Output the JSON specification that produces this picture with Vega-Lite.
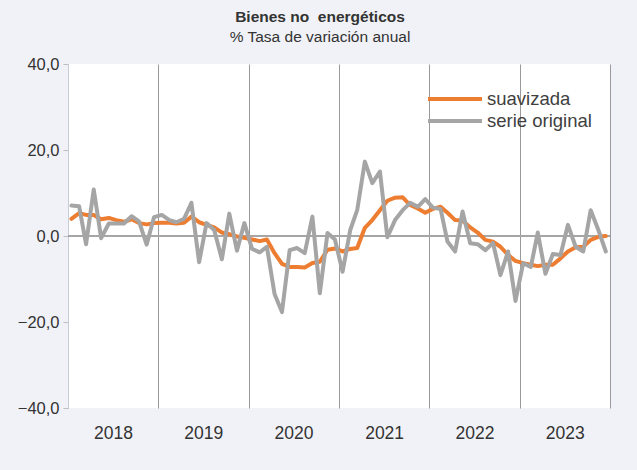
{
  "$schema": "https://vega.github.io/schema/vega-lite/v6.json",
  "width": 542,
  "height": 344,
  "autosize": {"type": "none"},
  "padding": {"left": 68, "top": 64, "right": 27, "bottom": 62},
  "background": "#f1f2f7",
  "config": {
    "view": {"fill": "white", "stroke": null},
    "font": "Liberation Sans"
  },
  "title": {
    "text": "Bienes no\u00a0 energéticos",
    "subtitle": "% Tasa de variación anual",
    "font": "Liberation Sans",
    "subtitleFont": "Liberation Sans",
    "fontSize": 15.5,
    "fontWeight": "bold",
    "subtitleFontSize": 15.5,
    "color": "#333333",
    "subtitleColor": "#333333",
    "anchor": "middle",
    "dx": -19,
    "offset": 11,
    "subtitlePadding": 4
  },
  "data": {
    "values": [
      {"fecha": "2018-01-15", "serie": "suavizada", "valor": 4.0},
      {"fecha": "2018-02-15", "serie": "suavizada", "valor": 5.3},
      {"fecha": "2018-03-15", "serie": "suavizada", "valor": 4.9},
      {"fecha": "2018-04-15", "serie": "suavizada", "valor": 4.9},
      {"fecha": "2018-05-15", "serie": "suavizada", "valor": 3.9},
      {"fecha": "2018-06-15", "serie": "suavizada", "valor": 4.2},
      {"fecha": "2018-07-15", "serie": "suavizada", "valor": 3.7},
      {"fecha": "2018-08-15", "serie": "suavizada", "valor": 3.3},
      {"fecha": "2018-09-15", "serie": "suavizada", "valor": 3.9},
      {"fecha": "2018-10-15", "serie": "suavizada", "valor": 3.0},
      {"fecha": "2018-11-15", "serie": "suavizada", "valor": 2.7},
      {"fecha": "2018-12-15", "serie": "suavizada", "valor": 3.0},
      {"fecha": "2019-01-15", "serie": "suavizada", "valor": 3.1},
      {"fecha": "2019-02-15", "serie": "suavizada", "valor": 3.1},
      {"fecha": "2019-03-15", "serie": "suavizada", "valor": 2.9},
      {"fecha": "2019-04-15", "serie": "suavizada", "valor": 3.1},
      {"fecha": "2019-05-15", "serie": "suavizada", "valor": 4.5},
      {"fecha": "2019-06-15", "serie": "suavizada", "valor": 3.2},
      {"fecha": "2019-07-15", "serie": "suavizada", "valor": 2.6},
      {"fecha": "2019-08-15", "serie": "suavizada", "valor": 2.0},
      {"fecha": "2019-09-15", "serie": "suavizada", "valor": 0.8},
      {"fecha": "2019-10-15", "serie": "suavizada", "valor": 0.4},
      {"fecha": "2019-11-15", "serie": "suavizada", "valor": -0.1},
      {"fecha": "2019-12-15", "serie": "suavizada", "valor": -0.4},
      {"fecha": "2020-01-15", "serie": "suavizada", "valor": -0.8},
      {"fecha": "2020-02-15", "serie": "suavizada", "valor": -1.2},
      {"fecha": "2020-03-15", "serie": "suavizada", "valor": -0.8},
      {"fecha": "2020-04-15", "serie": "suavizada", "valor": -4.0},
      {"fecha": "2020-05-15", "serie": "suavizada", "valor": -6.5},
      {"fecha": "2020-06-15", "serie": "suavizada", "valor": -7.2},
      {"fecha": "2020-07-15", "serie": "suavizada", "valor": -7.2},
      {"fecha": "2020-08-15", "serie": "suavizada", "valor": -7.3},
      {"fecha": "2020-09-15", "serie": "suavizada", "valor": -6.3},
      {"fecha": "2020-10-15", "serie": "suavizada", "valor": -6.0},
      {"fecha": "2020-11-15", "serie": "suavizada", "valor": -3.2},
      {"fecha": "2020-12-15", "serie": "suavizada", "valor": -2.9},
      {"fecha": "2021-01-15", "serie": "suavizada", "valor": -3.6},
      {"fecha": "2021-02-15", "serie": "suavizada", "valor": -3.0},
      {"fecha": "2021-03-15", "serie": "suavizada", "valor": -2.8},
      {"fecha": "2021-04-15", "serie": "suavizada", "valor": 1.9},
      {"fecha": "2021-05-15", "serie": "suavizada", "valor": 3.7},
      {"fecha": "2021-06-15", "serie": "suavizada", "valor": 6.0},
      {"fecha": "2021-07-15", "serie": "suavizada", "valor": 8.2},
      {"fecha": "2021-08-15", "serie": "suavizada", "valor": 8.9},
      {"fecha": "2021-09-15", "serie": "suavizada", "valor": 9.0},
      {"fecha": "2021-10-15", "serie": "suavizada", "valor": 7.2},
      {"fecha": "2021-11-15", "serie": "suavizada", "valor": 6.4},
      {"fecha": "2021-12-15", "serie": "suavizada", "valor": 5.4},
      {"fecha": "2022-01-15", "serie": "suavizada", "valor": 6.3},
      {"fecha": "2022-02-15", "serie": "suavizada", "valor": 6.8},
      {"fecha": "2022-03-15", "serie": "suavizada", "valor": 5.4},
      {"fecha": "2022-04-15", "serie": "suavizada", "valor": 3.7},
      {"fecha": "2022-05-15", "serie": "suavizada", "valor": 3.6},
      {"fecha": "2022-06-15", "serie": "suavizada", "valor": 2.0},
      {"fecha": "2022-07-15", "serie": "suavizada", "valor": 0.8},
      {"fecha": "2022-08-15", "serie": "suavizada", "valor": -0.9},
      {"fecha": "2022-09-15", "serie": "suavizada", "valor": -1.3},
      {"fecha": "2022-10-15", "serie": "suavizada", "valor": -2.5},
      {"fecha": "2022-11-15", "serie": "suavizada", "valor": -4.4},
      {"fecha": "2022-12-15", "serie": "suavizada", "valor": -5.8},
      {"fecha": "2023-01-15", "serie": "suavizada", "valor": -6.3},
      {"fecha": "2023-02-15", "serie": "suavizada", "valor": -6.7},
      {"fecha": "2023-03-15", "serie": "suavizada", "valor": -7.0},
      {"fecha": "2023-04-15", "serie": "suavizada", "valor": -6.7},
      {"fecha": "2023-05-15", "serie": "suavizada", "valor": -6.7},
      {"fecha": "2023-06-15", "serie": "suavizada", "valor": -5.2},
      {"fecha": "2023-07-15", "serie": "suavizada", "valor": -3.6},
      {"fecha": "2023-08-15", "serie": "suavizada", "valor": -2.6},
      {"fecha": "2023-09-15", "serie": "suavizada", "valor": -2.5},
      {"fecha": "2023-10-15", "serie": "suavizada", "valor": -0.9},
      {"fecha": "2023-11-15", "serie": "suavizada", "valor": -0.2},
      {"fecha": "2023-12-15", "serie": "suavizada", "valor": 0.0},
      {"fecha": "2018-01-15", "serie": "serie original", "valor": 7.1},
      {"fecha": "2018-02-15", "serie": "serie original", "valor": 6.9},
      {"fecha": "2018-03-15", "serie": "serie original", "valor": -1.9},
      {"fecha": "2018-04-15", "serie": "serie original", "valor": 10.8},
      {"fecha": "2018-05-15", "serie": "serie original", "valor": -0.5},
      {"fecha": "2018-06-15", "serie": "serie original", "valor": 2.9},
      {"fecha": "2018-07-15", "serie": "serie original", "valor": 2.9},
      {"fecha": "2018-08-15", "serie": "serie original", "valor": 2.9},
      {"fecha": "2018-09-15", "serie": "serie original", "valor": 4.6},
      {"fecha": "2018-10-15", "serie": "serie original", "valor": 3.4},
      {"fecha": "2018-11-15", "serie": "serie original", "valor": -2.0},
      {"fecha": "2018-12-15", "serie": "serie original", "valor": 4.4},
      {"fecha": "2019-01-15", "serie": "serie original", "valor": 4.9},
      {"fecha": "2019-02-15", "serie": "serie original", "valor": 3.7},
      {"fecha": "2019-03-15", "serie": "serie original", "valor": 3.2},
      {"fecha": "2019-04-15", "serie": "serie original", "valor": 4.0},
      {"fecha": "2019-05-15", "serie": "serie original", "valor": 7.7},
      {"fecha": "2019-06-15", "serie": "serie original", "valor": -6.1},
      {"fecha": "2019-07-15", "serie": "serie original", "valor": 3.0},
      {"fecha": "2019-08-15", "serie": "serie original", "valor": 1.4},
      {"fecha": "2019-09-15", "serie": "serie original", "valor": -5.4},
      {"fecha": "2019-10-15", "serie": "serie original", "valor": 5.2},
      {"fecha": "2019-11-15", "serie": "serie original", "valor": -3.4},
      {"fecha": "2019-12-15", "serie": "serie original", "valor": 3.0},
      {"fecha": "2020-01-15", "serie": "serie original", "valor": -3.0},
      {"fecha": "2020-02-15", "serie": "serie original", "valor": -3.8},
      {"fecha": "2020-03-15", "serie": "serie original", "valor": -2.5},
      {"fecha": "2020-04-15", "serie": "serie original", "valor": -13.5},
      {"fecha": "2020-05-15", "serie": "serie original", "valor": -17.7},
      {"fecha": "2020-06-15", "serie": "serie original", "valor": -3.3},
      {"fecha": "2020-07-15", "serie": "serie original", "valor": -2.8},
      {"fecha": "2020-08-15", "serie": "serie original", "valor": -4.0},
      {"fecha": "2020-09-15", "serie": "serie original", "valor": 4.5},
      {"fecha": "2020-10-15", "serie": "serie original", "valor": -13.3},
      {"fecha": "2020-11-15", "serie": "serie original", "valor": 0.7},
      {"fecha": "2020-12-15", "serie": "serie original", "valor": -0.8},
      {"fecha": "2021-01-15", "serie": "serie original", "valor": -8.3},
      {"fecha": "2021-02-15", "serie": "serie original", "valor": 1.4},
      {"fecha": "2021-03-15", "serie": "serie original", "valor": 6.0},
      {"fecha": "2021-04-15", "serie": "serie original", "valor": 17.3},
      {"fecha": "2021-05-15", "serie": "serie original", "valor": 12.3},
      {"fecha": "2021-06-15", "serie": "serie original", "valor": 15.0},
      {"fecha": "2021-07-15", "serie": "serie original", "valor": -0.3},
      {"fecha": "2021-08-15", "serie": "serie original", "valor": 3.7},
      {"fecha": "2021-09-15", "serie": "serie original", "valor": 6.0},
      {"fecha": "2021-10-15", "serie": "serie original", "valor": 7.7},
      {"fecha": "2021-11-15", "serie": "serie original", "valor": 6.8},
      {"fecha": "2021-12-15", "serie": "serie original", "valor": 8.6},
      {"fecha": "2022-01-15", "serie": "serie original", "valor": 6.6},
      {"fecha": "2022-02-15", "serie": "serie original", "valor": 6.3},
      {"fecha": "2022-03-15", "serie": "serie original", "valor": -1.3},
      {"fecha": "2022-04-15", "serie": "serie original", "valor": -3.6},
      {"fecha": "2022-05-15", "serie": "serie original", "valor": 5.7},
      {"fecha": "2022-06-15", "serie": "serie original", "valor": -1.7},
      {"fecha": "2022-07-15", "serie": "serie original", "valor": -1.9},
      {"fecha": "2022-08-15", "serie": "serie original", "valor": -3.3},
      {"fecha": "2022-09-15", "serie": "serie original", "valor": -1.6},
      {"fecha": "2022-10-15", "serie": "serie original", "valor": -9.1},
      {"fecha": "2022-11-15", "serie": "serie original", "valor": -3.6},
      {"fecha": "2022-12-15", "serie": "serie original", "valor": -15.1},
      {"fecha": "2023-01-15", "serie": "serie original", "valor": -6.3},
      {"fecha": "2023-02-15", "serie": "serie original", "valor": -7.2},
      {"fecha": "2023-03-15", "serie": "serie original", "valor": 0.8},
      {"fecha": "2023-04-15", "serie": "serie original", "valor": -8.8},
      {"fecha": "2023-05-15", "serie": "serie original", "valor": -4.2},
      {"fecha": "2023-06-15", "serie": "serie original", "valor": -4.4},
      {"fecha": "2023-07-15", "serie": "serie original", "valor": 2.6},
      {"fecha": "2023-08-15", "serie": "serie original", "valor": -2.5},
      {"fecha": "2023-09-15", "serie": "serie original", "valor": -3.6},
      {"fecha": "2023-10-15", "serie": "serie original", "valor": 6.0},
      {"fecha": "2023-11-15", "serie": "serie original", "valor": 1.4},
      {"fecha": "2023-12-15", "serie": "serie original", "valor": -3.6}
    ]
  },
  "layer": [
    {
      "mark": {"type": "rule", "color": "#a6a6a6", "strokeWidth": 2},
      "encoding": {
        "y": {"datum": 0, "type": "quantitative", "scale": {"domain": [-40, 40], "nice": false, "zero": false}}
      }
    },
    {
      "transform": [{"filter": "datum.serie === 'suavizada'"}],
      "mark": {"type": "line", "strokeWidth": 4, "strokeCap": "round", "strokeJoin": "round"},
      "encoding": {
        "x": {
          "field": "fecha",
          "type": "temporal",
          "scale": {
            "type": "utc",
            "domain": [
              {"year": 2018, "month": 1, "date": 1, "utc": true},
              {"year": 2024, "month": 1, "date": 1, "utc": true}
            ],
            "nice": false
          },
          "axis": {
            "title": null,
            "values": [
              {"year": 2018, "month": 1, "date": 1, "utc": true},
              {"year": 2019, "month": 1, "date": 1, "utc": true},
              {"year": 2020, "month": 1, "date": 1, "utc": true},
              {"year": 2021, "month": 1, "date": 1, "utc": true},
              {"year": 2022, "month": 1, "date": 1, "utc": true},
              {"year": 2023, "month": 1, "date": 1, "utc": true},
              {"year": 2024, "month": 1, "date": 1, "utc": true}
            ],
            "labelExpr": "utcyear(datum.value) > 2023 ? '' : '' + utcyear(datum.value)",
            "labelOffset": 45,
            "labelAlign": "center",
            "labelFontSize": 17.5,
            "labelColor": "#333333",
            "labelPadding": 16,
            "labelFlush": false,
            "labelOverlap": false,
            "ticks": false,
            "tickSize": 0,
            "domain": false,
            "grid": true,
            "gridColor": "#9a9a9a",
            "gridWidth": 1
          }
        },
        "y": {
          "field": "valor",
          "type": "quantitative",
          "scale": {"domain": [-40, 40], "nice": false, "zero": false},
          "axis": {
            "title": null,
            "values": [-40, -20, 0, 20, 40],
            "labelExpr": "replace(format(datum.value, '.1f'), '.', ',')",
            "labelFontSize": 16.5,
            "labelColor": "#333333",
            "labelPadding": 4,
            "tickSize": 5,
            "tickColor": "#bfbfbf",
            "domainColor": "#c8ccd6",
            "gridColor": "#d9d9d9",
            "gridDash": [3, 3],
            "gridWidth": 1
          }
        },
        "color": {
          "field": "serie",
          "type": "nominal",
          "scale": {"domain": ["suavizada", "serie original"], "range": ["#ED7D31", "#A5A5A5"]},
          "legend": {
            "title": null,
            "orient": "none",
            "legendX": 358,
            "legendY": 24,
            "padding": 0,
            "symbolType": "stroke",
            "symbolSize": 2916,
            "symbolStrokeWidth": 4,
            "clipHeight": 22,
            "labelFontSize": 18.5,
            "labelColor": "#404040",
            "labelOffset": 3,
            "rowPadding": 0
          }
        }
      }
    },
    {
      "transform": [{"filter": "datum.serie === 'serie original'"}],
      "mark": {"type": "line", "strokeWidth": 4, "strokeCap": "round", "strokeJoin": "round"},
      "encoding": {
        "x": {"field": "fecha", "type": "temporal"},
        "y": {"field": "valor", "type": "quantitative"},
        "color": {"field": "serie", "type": "nominal"}
      }
    }
  ]
}
